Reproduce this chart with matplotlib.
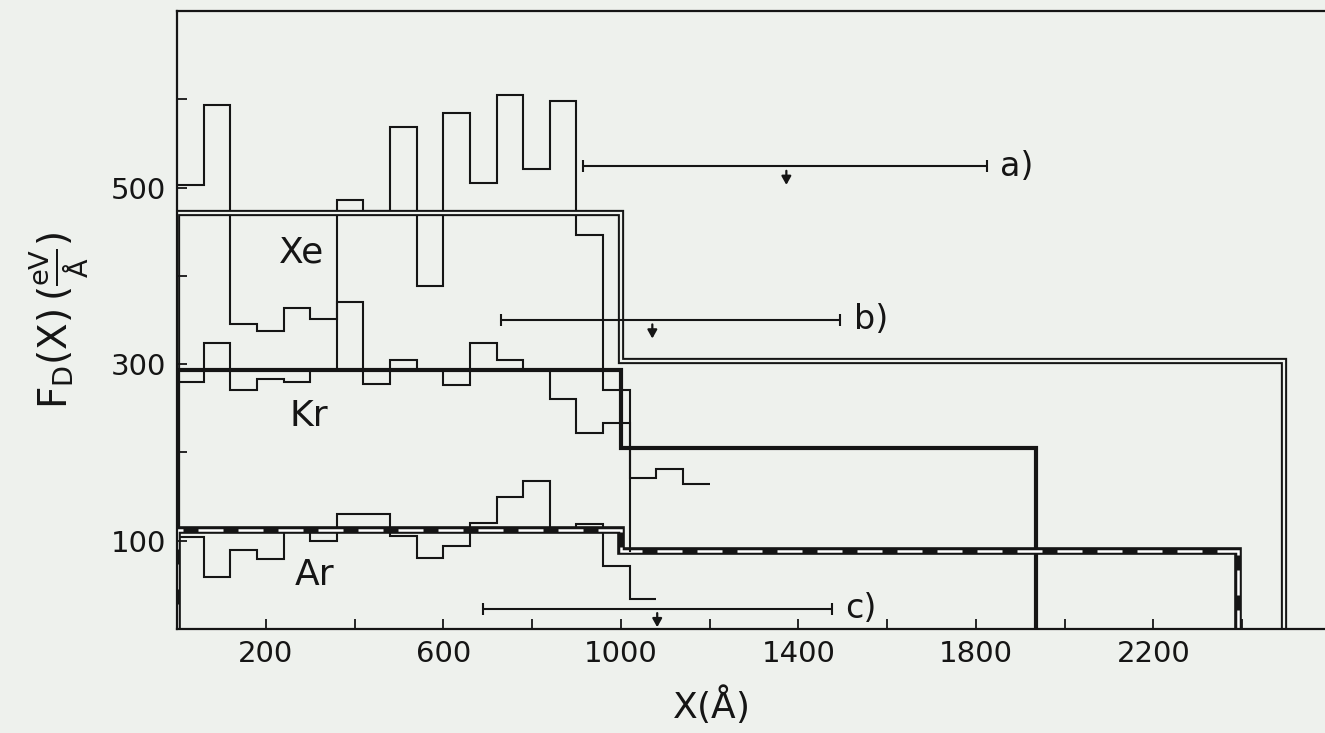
import numpy as np
import matplotlib.pyplot as plt

plt.rcParams['font.family'] = 'DejaVu Sans'
plt.rcParams['mathtext.default'] = 'regular'

# histogram bins are 60 A wide, starting at x = 0
bin_width = 60
xe_vals = [503, 593, 346, 337, 364, 351, 486, 474, 569, 388,
           584, 505, 605, 521, 598, 446, 271, 171, 181, 164]
kr_vals = [280, 324, 271, 283, 280, 293, 370, 278, 305, 293,
           276, 324, 305, 293, 261, 222, 233]
ar_vals = [104, 59, 89, 79, 112, 100, 130, 130, 105, 80,
           94, 120, 150, 168, 113, 119, 71, 34]

# mean force levels: edges and values
xe_mean_x = [0, 1000, 2495]
xe_mean_y = [471, 303]
kr_mean_x = [0, 1000, 1935]
kr_mean_y = [293, 205]
ar_mean_x = [0, 1000, 2390]
ar_mean_y = [112, 88]

# ranges a), b), c)
range_labels = ['a)', 'b)', 'c)']
range_lo = [915, 729, 690]
range_hi = [1824, 1495, 1476]
range_mid = [1373, 1071, 1082]
range_y = [524, 350, 23]

gas_labels = ['Xe', 'Kr', 'Ar']
gas_x = [281, 298, 310]
gas_y = [427, 241, 61]

xtick_vals = list(range(200, 2600, 200))
xtick_text = ['200', '', '600', '', '1000', '', '1400', '', '1800', '', '2200', '']
ytick_vals = [100, 200, 300, 400, 500, 600]
ytick_text = ['100', '', '300', '', '500', '']

bg = '#eef1ed'
ink = '#151515'

fig = plt.figure(figsize=(13.25, 7.33), dpi=100, facecolor=bg)
ax = fig.add_axes([0.1336, 0.1419, 0.8675, 0.8431], facecolor=bg)

def edges(vals):
    return np.arange(len(vals) + 1) * bin_width

# histograms
ax.stairs(xe_vals, edges(xe_vals), baseline=None, color=ink, lw=1.5)
ax.stairs(ar_vals, edges(ar_vals), baseline=None, color=ink, lw=1.5)
kr_e = edges(kr_vals)
ax.stairs(kr_vals, kr_e, baseline=None, color=ink, lw=1.5)
ax.plot([kr_e[-1], kr_e[-1]], [kr_vals[-1], ar_mean_y[1]], color=ink, lw=1.5)

# mean lines
ax.stairs(xe_mean_y, xe_mean_x, baseline=0, edgecolor=ink, lw=4.5)
ax.stairs(xe_mean_y, xe_mean_x, baseline=0, edgecolor=bg, lw=1.6)
ax.stairs(kr_mean_y, kr_mean_x, baseline=0, edgecolor=ink, lw=3.0)
ax.stairs(ar_mean_y, ar_mean_x, baseline=0, edgecolor=ink, lw=5.5)
ax.stairs(ar_mean_y, ar_mean_x, baseline=0, edgecolor='white', lw=1.8,
          linestyle=(0, (10, 6)))

# range bars with arrows
for lab, lo, hi, mid, y in zip(range_labels, range_lo, range_hi, range_mid, range_y):
    ax.errorbar(mid, y, xerr=[[mid - lo], [hi - mid]], fmt='none',
                ecolor=ink, elinewidth=1.5, capsize=4, capthick=1.5)
    ax.annotate('', xy=(mid, y - 21), xytext=(mid, y - 5),
                arrowprops=dict(arrowstyle='-|>,head_length=0.5,head_width=0.28',
                                color=ink, lw=1.6, shrinkA=0, shrinkB=0))
    ax.text(hi + 30, y, lab, fontsize=24, va='center', ha='left', color=ink)

for lab, x, y in zip(gas_labels, gas_x, gas_y):
    ax.text(x, y, lab, fontsize=26, va='center', ha='center', color=ink)

ax.set_xlim(0, 2590)
ax.set_ylim(0, 700)
ax.set_xticks(xtick_vals)
ax.set_xticklabels(xtick_text)
ax.set_yticks(ytick_vals)
ax.set_yticklabels(ytick_text)
ax.tick_params(direction='in', length=7, width=1.3, labelsize=21,
               colors=ink, pad=8)

for side in ['left', 'bottom', 'top']:
    ax.spines[side].set_linewidth(1.6)
    ax.spines[side].set_color(ink)
ax.spines['right'].set_visible(False)

ax.set_xlabel(r'X($\AA$)', fontsize=26, color=ink)
ax.xaxis.set_label_coords(0.464, -0.085)
ax.set_ylabel(r'$F_D(X)\,(\frac{eV}{\AA})$', fontsize=28, color=ink, labelpad=14)

fig.savefig('out.png', dpi=100, facecolor=bg)
